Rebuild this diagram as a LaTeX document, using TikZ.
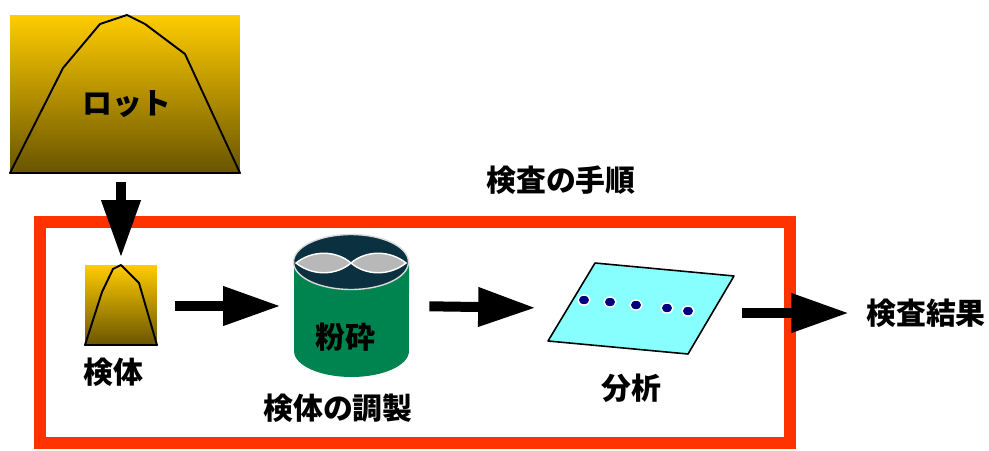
\documentclass[tikz,border=0pt]{standalone}
\usepackage{fontspec}
\newfontfamily\jpfont{Noto Sans CJK JP}[BoldFont={Noto Sans CJK JP Black}]
\usepackage{xcolor}
\definecolor{lotgold}{HTML}{FFCC00}
\definecolor{lotdark}{HTML}{695400}
\definecolor{framered}{HTML}{FF3300}
\definecolor{millgreen}{HTML}{00844F}
\definecolor{milltop}{HTML}{0B3040}
\definecolor{bladegray}{HTML}{B8B8B8}
\definecolor{platecyan}{HTML}{88FFFF}
\definecolor{spotnavy}{HTML}{000080}
\usetikzlibrary{arrows.meta}

\tikzset{
  jp/.style={font=\jpfont\bfseries\fontsize{17}{19}\selectfont,inner sep=0pt},
  bigarrow/.style={line width=0.2cm,-{Triangle[length=1.15cm,width=0.74cm]}},
  heap/.style={top color=lotgold,bottom color=lotdark,inner sep=0pt},
}

\begin{document}
\begin{tikzpicture}[x=0.02cm,y=-0.02cm]
  \useasboundingbox (0,0) rectangle (989,450);
  % lot (large heap)
  \node[heap,minimum width=4.6cm,minimum height=3.16cm] (lot) at (125,94) {};
  \draw[line width=1.1pt,line join=round] (10,173) -- (63,68) -- (100,24) -- (127,15) -- (145,24) -- (185,54) -- (240,173) -- cycle;
  \node[jp] (lottxt) at (127,104) {ロット};
  % procedure frame
  \node[draw=framered,line width=0.24cm,minimum width=15cm,minimum height=4.42cm,inner sep=0pt] (frame) at (415,332.5) {};
  \node[jp] (title) at (561,180) {検査の手順};
  % sample (small heap)
  \node[heap,minimum width=1.44cm,minimum height=1.6cm] (sample) at (121,305) {};
  \draw[line width=1.1pt,line join=round] (85,345) -- (102,292) -- (113,269) -- (121,265) -- (139,283) -- (157,345) -- cycle;
  \node[jp] (samplelbl) at (113,372) {検体};
  \draw[bigarrow,shorten <=0.18cm,shorten >=0.14cm] (sample.north |- lot.south) -- (sample.north);
  % mill (cylinder)
  \node[minimum width=2.32cm,minimum height=2.84cm,inner sep=0pt] (mill) at (351,306) {};
  \fill[millgreen] (294,262) -- (294,351) arc[start angle=180,end angle=360,x radius=1.15cm,y radius=0.52cm] -- (409,262) -- cycle;
  \draw[fill=milltop,draw=white!85!black,line width=0.8pt] (351,262) ellipse[x radius=1.15cm,y radius=0.55cm];
  \draw[fill=bladegray,draw=white,line width=0.8pt] (296,263) .. controls (312,250) and (336,250) .. (351,263) .. controls (336,276) and (312,276) .. (296,263) -- cycle;
  \draw[fill=bladegray,draw=white,line width=0.8pt] (351,263) .. controls (366,250) and (390,250) .. (406,263) .. controls (390,276) and (366,276) .. (351,263) -- cycle;
  \node[jp] (milltxt) at (345,337) {粉砕};
  \node[jp] (milllbl) at (338,408) {検体の調製};
  \draw[bigarrow,shorten <=0.36cm,shorten >=0.24cm] (sample.east |- mill.west) -- (mill.west);
  % plate with spots
  \node[minimum width=3.72cm,minimum height=1.82cm,inner sep=0pt] (plate) at (641,308) {};
  \draw[fill=platecyan,line width=0.9pt,line join=round] (595,263) -- (734,276) -- (688,354) -- (548,341) -- cycle;
  \foreach \px/\py in {584/300,610/302,636/305,667/308,688/311}
    \draw[fill=spotnavy,draw=white,line width=0.8pt] (\px,\py) ellipse[x radius=0.12cm,y radius=0.1cm];
  \node[jp] (platelbl) at (631,388) {分析};
  \draw[bigarrow,shorten <=0.4cm,shorten >=0.24cm] (mill.east) -- (plate.west);
  % result
  \node[jp] (result) at (926,313) {検査結果};
  \draw[bigarrow,shorten <=0.16cm,shorten >=0.34cm] (plate.east |- result.west) -- (result.west);
\end{tikzpicture}
\end{document}
